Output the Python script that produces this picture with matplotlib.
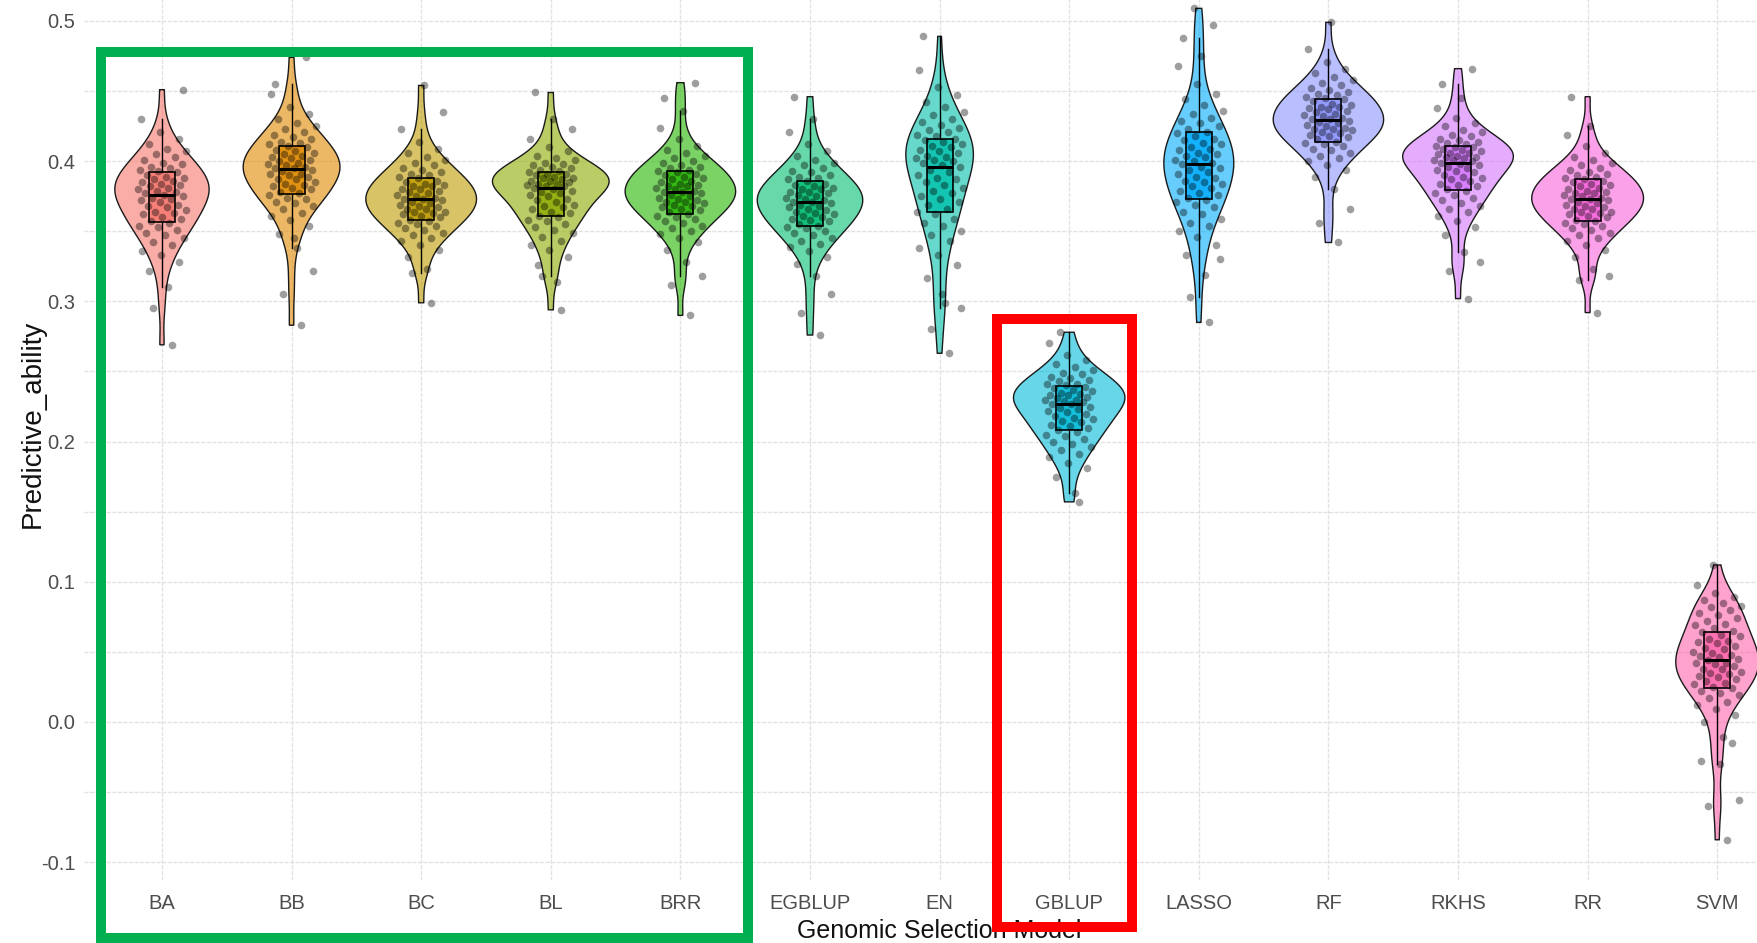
import numpy as np
import matplotlib
matplotlib.use("Agg")
import matplotlib.pyplot as plt
from matplotlib.patches import Rectangle, Polygon
from matplotlib.colors import to_rgba
from matplotlib import font_manager as fm

# ---------------------------------------------------------------- data
models = ["BA", "BB", "BC", "BL", "BRR", "EGBLUP", "EN", "GBLUP",
          "LASSO", "RF", "RKHS", "RR", "SVM"]
colors = ["#F8766D", "#E18A00", "#BE9C00", "#8CAB00", "#24B700", "#00BE70",
          "#00C1AB", "#00BBDA", "#00ACFC", "#8B93FF", "#D575FE", "#F962DD",
          "#FF65AC"]

ba = [0.310, 0.322, 0.328, 0.333, 0.336, 0.340, 0.342, 0.345, 0.347, 0.349,
      0.351, 0.353, 0.354, 0.356, 0.357, 0.359, 0.360, 0.362, 0.363, 0.364,
      0.365, 0.367, 0.368, 0.369, 0.371, 0.372, 0.373, 0.374, 0.375, 0.376,
      0.377, 0.378, 0.379, 0.380, 0.381, 0.382, 0.383, 0.384, 0.385, 0.386,
      0.387, 0.388, 0.389, 0.390, 0.392, 0.393, 0.394, 0.395, 0.396, 0.398,
      0.399, 0.401, 0.403, 0.405, 0.407, 0.409, 0.412, 0.416, 0.421, 0.430,
      0.269, 0.295, 0.451]
bb = [0.338, 0.348, 0.354, 0.358, 0.361, 0.363, 0.366, 0.368, 0.370, 0.371,
      0.373, 0.374, 0.376, 0.377, 0.378, 0.380, 0.381, 0.382, 0.383, 0.384,
      0.385, 0.387, 0.387, 0.389, 0.390, 0.391, 0.391, 0.393, 0.394, 0.395,
      0.395, 0.396, 0.397, 0.398, 0.399, 0.400, 0.401, 0.402, 0.403, 0.404,
      0.405, 0.406, 0.407, 0.408, 0.410, 0.411, 0.412, 0.413, 0.414, 0.416,
      0.417, 0.419, 0.421, 0.423, 0.425, 0.427, 0.430, 0.434, 0.439, 0.448,
      0.283, 0.305, 0.322, 0.345, 0.455, 0.474]
bc = [0.323, 0.332, 0.337, 0.340, 0.343, 0.345, 0.347, 0.349, 0.351, 0.352,
      0.354, 0.355, 0.356, 0.357, 0.358, 0.360, 0.361, 0.362, 0.363, 0.364,
      0.364, 0.366, 0.366, 0.367, 0.368, 0.369, 0.370, 0.371, 0.372, 0.373,
      0.373, 0.374, 0.375, 0.376, 0.377, 0.378, 0.379, 0.380, 0.380, 0.382,
      0.382, 0.383, 0.384, 0.385, 0.386, 0.388, 0.389, 0.390, 0.391, 0.392,
      0.394, 0.395, 0.397, 0.399, 0.401, 0.403, 0.406, 0.409, 0.414, 0.423,
      0.299, 0.320, 0.435, 0.454]
bl = [0.314, 0.326, 0.332, 0.337, 0.340, 0.343, 0.346, 0.349, 0.351, 0.353,
      0.355, 0.357, 0.358, 0.360, 0.361, 0.363, 0.364, 0.366, 0.367, 0.368,
      0.369, 0.371, 0.372, 0.373, 0.375, 0.376, 0.377, 0.378, 0.379, 0.380,
      0.381, 0.382, 0.382, 0.383, 0.384, 0.384, 0.385, 0.386, 0.386, 0.387,
      0.388, 0.388, 0.389, 0.390, 0.391, 0.391, 0.392, 0.393, 0.394, 0.395,
      0.396, 0.397, 0.398, 0.399, 0.401, 0.402, 0.404, 0.407, 0.410, 0.416,
      0.294, 0.318, 0.423, 0.430, 0.449]
brr = [0.328, 0.337, 0.342, 0.345, 0.348, 0.350, 0.352, 0.354, 0.356, 0.357,
       0.359, 0.360, 0.361, 0.362, 0.364, 0.365, 0.366, 0.367, 0.368, 0.369,
       0.370, 0.371, 0.371, 0.372, 0.373, 0.374, 0.375, 0.376, 0.377, 0.378,
       0.378, 0.379, 0.380, 0.381, 0.382, 0.382, 0.383, 0.384, 0.385, 0.386,
       0.387, 0.388, 0.389, 0.390, 0.391, 0.392, 0.393, 0.394, 0.395, 0.396,
       0.397, 0.399, 0.400, 0.402, 0.404, 0.406, 0.408, 0.411, 0.416, 0.424,
       0.290, 0.312, 0.318, 0.436, 0.445, 0.456]
egblup = [0.318, 0.327, 0.332, 0.336, 0.339, 0.341, 0.343, 0.345, 0.347, 0.349,
          0.350, 0.352, 0.353, 0.354, 0.355, 0.357, 0.358, 0.359, 0.360, 0.361,
          0.362, 0.363, 0.364, 0.365, 0.366, 0.367, 0.368, 0.369, 0.370, 0.371,
          0.371, 0.372, 0.373, 0.374, 0.375, 0.376, 0.377, 0.378, 0.378, 0.380,
          0.380, 0.381, 0.382, 0.383, 0.384, 0.386, 0.387, 0.388, 0.389, 0.390,
          0.392, 0.393, 0.395, 0.397, 0.399, 0.401, 0.404, 0.407, 0.412, 0.421,
          0.276, 0.292, 0.305, 0.430, 0.446]
en = [0.299, 0.317, 0.326, 0.333, 0.338, 0.343, 0.347, 0.350, 0.354, 0.356,
      0.359, 0.362, 0.364, 0.366, 0.369, 0.371, 0.373, 0.375, 0.377, 0.379,
      0.381, 0.383, 0.385, 0.387, 0.388, 0.390, 0.392, 0.394, 0.396, 0.397,
      0.399, 0.400, 0.401, 0.402, 0.403, 0.404, 0.406, 0.407, 0.408, 0.410,
      0.411, 0.412, 0.414, 0.415, 0.416, 0.418, 0.419, 0.421, 0.422, 0.424,
      0.426, 0.428, 0.430, 0.433, 0.435, 0.439, 0.442, 0.447, 0.453, 0.465,
      0.263, 0.280, 0.295, 0.305, 0.489]
gblup = [0.163, 0.175, 0.181, 0.185, 0.189, 0.191, 0.194, 0.196, 0.198, 0.200,
         0.202, 0.204, 0.205, 0.207, 0.208, 0.210, 0.211, 0.212, 0.214, 0.215,
         0.216, 0.217, 0.218, 0.220, 0.221, 0.222, 0.223, 0.224, 0.225, 0.227,
         0.227, 0.228, 0.229, 0.230, 0.230, 0.231, 0.232, 0.233, 0.233, 0.234,
         0.235, 0.236, 0.237, 0.238, 0.239, 0.240, 0.241, 0.241, 0.243, 0.244,
         0.245, 0.246, 0.248, 0.249, 0.251, 0.253, 0.255, 0.258, 0.262, 0.270,
         0.157, 0.278]
lasso = [0.319, 0.333, 0.340, 0.346, 0.350, 0.354, 0.356, 0.359, 0.362, 0.364,
         0.367, 0.369, 0.371, 0.372, 0.374, 0.376, 0.377, 0.379, 0.381, 0.382,
         0.384, 0.385, 0.386, 0.388, 0.389, 0.391, 0.392, 0.394, 0.395, 0.396,
         0.398, 0.399, 0.400, 0.401, 0.403, 0.404, 0.405, 0.406, 0.408, 0.409,
         0.410, 0.412, 0.413, 0.415, 0.416, 0.418, 0.420, 0.421, 0.423, 0.425,
         0.427, 0.429, 0.431, 0.434, 0.436, 0.440, 0.444, 0.448, 0.455, 0.468,
         0.285, 0.303, 0.330, 0.475, 0.488, 0.497, 0.509]
rf = [0.380, 0.389, 0.394, 0.397, 0.400, 0.402, 0.404, 0.406, 0.408, 0.409,
      0.411, 0.412, 0.413, 0.414, 0.416, 0.417, 0.418, 0.419, 0.420, 0.421,
      0.422, 0.423, 0.423, 0.424, 0.425, 0.426, 0.427, 0.428, 0.429, 0.430,
      0.430, 0.431, 0.432, 0.433, 0.434, 0.435, 0.436, 0.437, 0.438, 0.439,
      0.439, 0.440, 0.441, 0.443, 0.444, 0.445, 0.446, 0.447, 0.448, 0.449,
      0.451, 0.452, 0.454, 0.456, 0.458, 0.460, 0.463, 0.466, 0.471, 0.480,
      0.342, 0.356, 0.366, 0.499]
rkhs = [0.335, 0.347, 0.353, 0.357, 0.361, 0.364, 0.366, 0.368, 0.370, 0.372,
        0.374, 0.376, 0.377, 0.379, 0.380, 0.382, 0.383, 0.384, 0.386, 0.387,
        0.388, 0.389, 0.390, 0.392, 0.393, 0.394, 0.395, 0.396, 0.397, 0.398,
        0.399, 0.400, 0.401, 0.401, 0.402, 0.403, 0.403, 0.404, 0.405, 0.406,
        0.406, 0.407, 0.408, 0.409, 0.410, 0.410, 0.411, 0.412, 0.413, 0.414,
        0.415, 0.416, 0.418, 0.419, 0.421, 0.422, 0.425, 0.427, 0.431, 0.438,
        0.302, 0.322, 0.328, 0.445, 0.455, 0.466]
rr = [0.323, 0.332, 0.337, 0.340, 0.343, 0.345, 0.347, 0.349, 0.351, 0.352,
      0.354, 0.355, 0.356, 0.357, 0.358, 0.360, 0.361, 0.362, 0.363, 0.364,
      0.364, 0.366, 0.366, 0.367, 0.368, 0.369, 0.370, 0.371, 0.372, 0.373,
      0.373, 0.374, 0.375, 0.376, 0.377, 0.377, 0.378, 0.379, 0.380, 0.381,
      0.382, 0.383, 0.384, 0.385, 0.386, 0.387, 0.388, 0.389, 0.390, 0.391,
      0.392, 0.394, 0.395, 0.397, 0.399, 0.401, 0.403, 0.406, 0.411, 0.419,
      0.292, 0.315, 0.318, 0.425, 0.446]
svm = [-0.011, 0.000, 0.005, 0.009, 0.012, 0.014, 0.017, 0.019, 0.021, 0.022,
       0.024, 0.025, 0.027, 0.028, 0.029, 0.031, 0.032, 0.033, 0.034, 0.035,
       0.036, 0.038, 0.038, 0.040, 0.041, 0.042, 0.042, 0.044, 0.045, 0.046,
       0.047, 0.048, 0.049, 0.050, 0.052, 0.053, 0.054, 0.056, 0.057, 0.058,
       0.059, 0.061, 0.062, 0.064, 0.065, 0.067, 0.069, 0.070, 0.072, 0.074,
       0.076, 0.078, 0.080, 0.082, 0.083, 0.085, 0.087, 0.089, 0.092, 0.098,
       -0.084, -0.060, -0.056, -0.030, -0.028, -0.015, 0.112]

groups = [ba, bb, bc, bl, brr, egblup, en, gblup, lasso, rf, rkhs, rr, svm]

y_ticks = [-0.1, 0.0, 0.1, 0.2, 0.3, 0.4, 0.5]
y_tick_labels = ["-0.1", "0.0", "0.1", "0.2", "0.3", "0.4", "0.5"]
y_minor = [-0.05, 0.05, 0.15, 0.25, 0.35, 0.45]

# ---------------------------------------------------------------- fonts
names = {f.name for f in fm.fontManager.ttflist}
narrow = "Liberation Sans Narrow" in names
tick_font = "Liberation Sans Narrow" if narrow else "Liberation Sans"
plt.rcParams["axes.unicode_minus"] = False

W, H = 1758, 943
fig = plt.figure(figsize=(W / 100, H / 100), dpi=100)
fig.patch.set_facecolor("white")

# panel placement in pixels (top-left origin)
x_lo, x_hi = 0.4, 13.6
y_lo, y_hi = -0.113, 0.54
px_left, px_right = 84.2, 1795.0
py_bottom, py_top = 880.4, -35.1
ax = fig.add_axes([px_left / W, 1 - py_bottom / H,
                   (px_right - px_left) / W, (py_bottom - py_top) / H])
ax.set_xlim(x_lo, x_hi)
ax.set_ylim(y_lo, y_hi)
for s in ax.spines.values():
    s.set_visible(False)


def bw_nrd0(x):
    x = np.asarray(x)
    sd = x.std(ddof=1)
    iqr = np.subtract(*np.percentile(x, [75, 25]))
    lo = min(sd, iqr / 1.34)
    return 0.9 * lo * len(x) ** (-0.2)


def kde(x, grid):
    x = np.asarray(x)
    bw = bw_nrd0(x)
    z = (grid[:, None] - x[None, :]) / bw
    return np.exp(-0.5 * z ** 2).sum(axis=1) / (len(x) * bw * np.sqrt(2 * np.pi))


# violin densities, scaled by the common maximum (equal-area violins)
grids, dens = [], []
for vals in groups:
    g = np.linspace(min(vals), max(vals), 512)
    grids.append(g)
    dens.append(kde(vals, g))
gmax = max(d.max() for d in dens)

for i, (vals, g, d, c) in enumerate(zip(groups, grids, dens, colors)):
    pos = i + 1
    half = 0.45 * d / gmax
    xs = np.concatenate([pos - half, (pos + half)[::-1]])
    ys = np.concatenate([g, g[::-1]])
    ax.add_patch(Polygon(np.column_stack([xs, ys]), closed=True,
                         facecolor=to_rgba(c, 0.6), edgecolor="#1a1a1a",
                         linewidth=1.0, zorder=2))

bp = ax.boxplot(groups, positions=np.arange(1, len(groups) + 1), widths=0.2,
                patch_artist=True, showcaps=False, showfliers=False, whis=1.5,
                manage_ticks=False, zorder=3,
                boxprops=dict(edgecolor="black", linewidth=1.2),
                whiskerprops=dict(color="black", linewidth=1.0),
                medianprops=dict(color="black", linewidth=2.2))
for patch, c in zip(bp["boxes"], colors):
    patch.set_facecolor(to_rgba(c, 0.8))

# jittered raw points
for i, vals in enumerate(groups):
    k = np.arange(1, len(vals) + 1)
    off = ((k * 0.6180339887) % 1.0 - 0.5) * 0.38
    ax.scatter(i + 1 + off, vals, s=30, color="black", alpha=0.38,
               linewidths=0, zorder=4)

# grid
ax.set_xticks(np.arange(1, len(models) + 1))
ax.set_xticklabels(models)
ax.set_yticks(y_ticks)
ax.set_yticklabels(y_tick_labels)
ax.set_yticks(y_minor, minor=True)
ax.grid(which="major", axis="both", color="#e2e2e2", linewidth=1.0,
        linestyle=(0, (3, 1)), zorder=0)
ax.grid(which="minor", axis="y", color="#e2e2e2", linewidth=1.0,
        linestyle=(0, (3, 1)), zorder=0)
ax.set_axisbelow(True)
ax.tick_params(which="both", length=0)
ax.tick_params(axis="x", pad=9.5, labelsize=16.5 if narrow else 14.5,
               labelcolor="#4d4d4d")
ax.tick_params(axis="y", pad=6.5, labelsize=16 if narrow else 14.5,
               labelcolor="#4d4d4d")
for lab in ax.get_xticklabels() + ax.get_yticklabels():
    lab.set_fontfamily(tick_font)

# axis titles
fig.text(939.6 / W, 1 - 938 / H, "Genomic Selection Model", ha="center",
         va="baseline", fontsize=20.5 if narrow else 18, family=tick_font,
         color="#111111")
fig.text(33 / W, 1 - 424 / H, "Predictive_ability", rotation=90, ha="center",
         va="center", fontsize=20, family="Liberation Sans", color="#111111")

# highlight frames
def frame(x0, y0, x1, y1, color):
    fig.patches.append(Rectangle((x0 / W, 1 - y1 / H), (x1 - x0) / W,
                                 (y1 - y0) / H, transform=fig.transFigure,
                                 fill=False, edgecolor=color, linewidth=7.2,
                                 joinstyle="miter", zorder=10))

frame(101, 52, 748, 938, "#00B050")
frame(997, 319, 1132, 927, "#FF0000")

fig.savefig("out.png", dpi=100, facecolor="white")
